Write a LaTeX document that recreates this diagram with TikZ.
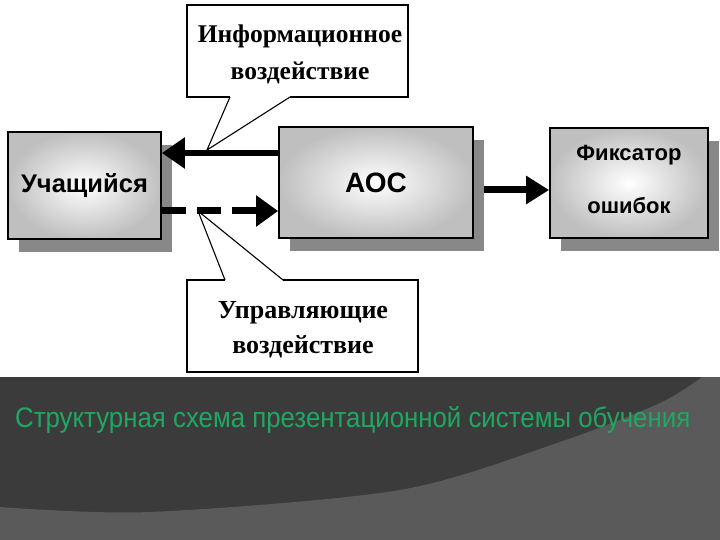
\documentclass[tikz,border=0pt]{standalone}
\usepackage{fontspec}
\setmainfont{Liberation Serif}
\setsansfont{Liberation Sans}
\usetikzlibrary{arrows.meta,shadows}
\definecolor{bgdark}{HTML}{3B3B3B}
\definecolor{bglight}{HTML}{5A5A5A}
\definecolor{capgreen}{HTML}{1FA862}
\definecolor{shadowgray}{HTML}{888888}
\begin{document}
\begin{tikzpicture}[x=1pt,y=-1pt,
  blockbox/.style={draw=black, line width=1.8pt, inner color=white, outer color=gray!50,
    align=center, font=\sffamily\bfseries,
    drop shadow={shadow xshift=11pt, shadow yshift=-13pt, fill=shadowgray, opacity=1}},
  callbox/.style={draw=black, line width=2.4pt, line join=miter},
  callptr/.style={draw=black, line width=1.1pt},
  calltext/.style={align=center, font=\fontsize{25.5}{37}\selectfont\bfseries, inner sep=0pt},
  solidarrow/.style={line width=5.5pt, -{Triangle[length=23pt,width=30pt]}},
  dasharrow/.style={line width=7pt, dash pattern=on 24pt off 11pt, -{Triangle[length=22pt,width=30pt]}},
]
\useasboundingbox (0,0) rectangle (720,540);
\fill[white] (0,0) rectangle (720,540);

% bottom background
\fill[bgdark] (0,377) rectangle (720,540);
\fill[bglight] plot[smooth] coordinates {(702,377) (660,403) (560,442) (400,490) (150,512) (0,507)}
  -- (0,540) -- (720,540) -- (720,377) -- cycle;

% blocks
\node[blockbox, minimum width=153pt, minimum height=107pt, font=\sffamily\bfseries\fontsize{25.5}{28}\selectfont]
  (u) at (84.5,185.5) {Учащийся};
\node[blockbox, minimum width=194pt, minimum height=111pt, font=\sffamily\bfseries\fontsize{28}{32}\selectfont]
  (aoc) at (376,182.5) {АОС};
\node[blockbox, minimum width=158pt, minimum height=110pt, text depth=7pt, font=\sffamily\bfseries\fontsize{22}{53}\selectfont]
  (fix) at (629,183) {Фиксатор\\ошибок};

% arrows
\coordinate (s1) at ([yshift=29.5pt]aoc.west);
\draw[solidarrow] (s1) -- (s1 -| u.east);
\coordinate (s2) at ([yshift=-25.5pt]u.east);
\draw[dasharrow] (s2) -- (s2 -| aoc.west);
\coordinate (s3) at ([xshift=10pt,yshift=-7.5pt]aoc.east);
\draw[line width=7pt, -{Triangle[length=23pt,width=27pt]}] (s3) -- (s3 -| fix.west);

% top callout
\coordinate (tip1) at (207,150);
\draw[callbox] (230,97) -- (187,97) -- (187,5) -- (408,5) -- (408,97) -- (290,97);
\draw[callptr] (230,97) -- (tip1) -- (290,97);
\node[calltext] (info) at (300,54) {Информационное\\воздействие};

% bottom callout
\coordinate (tip2) at (198,211);
\draw[callbox] (225,280) -- (187,280) -- (187,372) -- (418,372) -- (418,280) -- (283,280);
\draw[callptr] (225,280) -- (tip2) -- (283,280);
\node[calltext, font=\fontsize{26}{35}\selectfont\bfseries] (ctrl) at (303,330) {Управляющие\\воздействие};

% caption
\node[anchor=base west, inner sep=0pt, text=capgreen] (cap) at (15,427)
  {\resizebox{675pt}{21pt}{\sffamily Структурная схема презентационной системы обучения}};
\end{tikzpicture}
\end{document}
